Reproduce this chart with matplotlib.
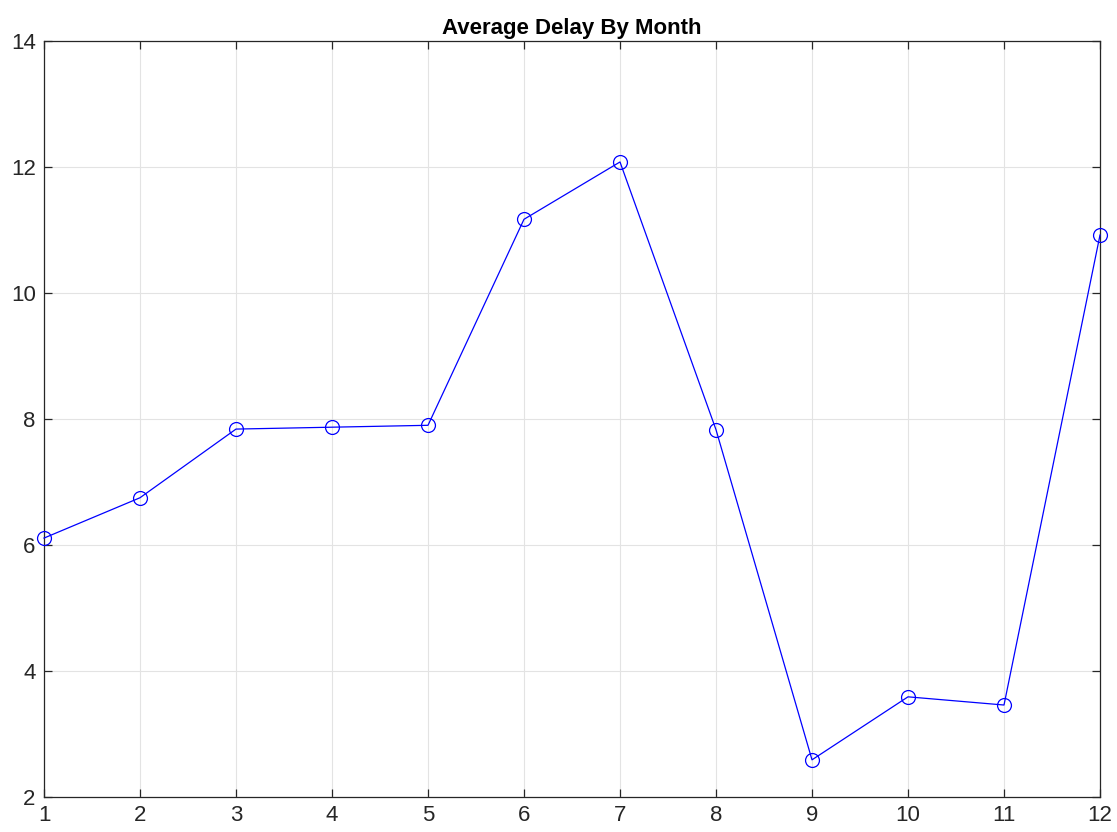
import matplotlib
matplotlib.use("Agg")
import matplotlib.pyplot as plt

# Data
months = [1, 2, 3, 4, 5, 6, 7, 8, 9, 10, 11, 12]
avg_delay = [6.11, 6.75, 7.84, 7.87, 7.90, 11.17, 12.08, 7.83, 2.59, 3.59, 3.46, 10.92]

plt.rcParams['font.family'] = 'Liberation Sans'

fig = plt.figure(figsize=(11.17, 8.32), dpi=100)
ax = fig.add_axes([44 / 1117, 35 / 832, 1056 / 1117, 756 / 832])

ax.plot(months, avg_delay, color='#0000ff', linewidth=0.9, marker='o',
        markersize=10, markerfacecolor='none', markeredgecolor='#0000ff',
        markeredgewidth=0.9, clip_on=False, zorder=5)

ax.set_xlim(1, 12)
ax.set_ylim(2, 14)
ax.set_xticks(months)
ax.set_yticks(range(2, 15, 2))

ax.grid(True, color='#e3e3e3', linewidth=0.8)
ax.set_axisbelow(True)

ax.tick_params(direction='in', top=True, right=True, length=6,
               width=0.9, labelsize=16, colors='#262626', pad=6)
for spine in ax.spines.values():
    spine.set_color('#262626')
    spine.set_linewidth(0.9)

ax.set_title('Average Delay By Month', fontsize=16, fontweight='bold', pad=5)

fig.savefig('out.png', dpi=100)
